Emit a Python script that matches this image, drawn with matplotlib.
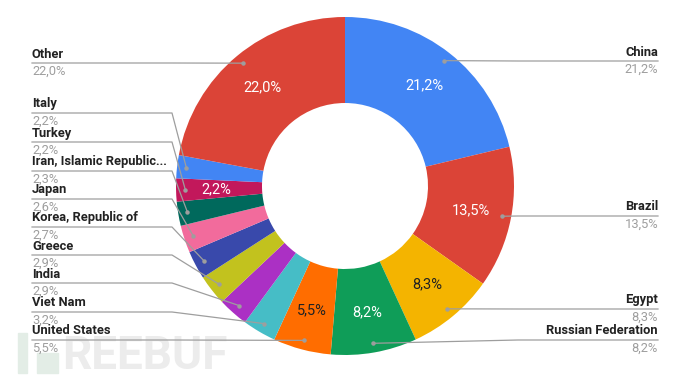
import matplotlib.pyplot as plt
import numpy as np
from matplotlib.patches import Rectangle

countries = ['China', 'Brazil', 'Egypt', 'Russian Federation', 'United States',
             'Viet Nam', 'India', 'Greece', 'Korea, Republic of', 'Japan',
             'Iran, Islamic Republic...', 'Turkey', 'Italy', 'Other']
shares = [21.2, 13.5, 8.3, 8.2, 5.5, 3.2, 2.9, 2.9, 2.7, 2.6, 2.3, 2.2, 2.2, 22.0]
colors = ['#4285f4', '#db4437', '#f4b400', '#0f9d58', '#ff6d00', '#46bdc6',
          '#ab30c4', '#c2c21e', '#3949ab', '#f26b9c', '#00695c', '#c2185b',
          '#4285f4', '#db4437']

# which slices get a value printed inside, and its colour
inner_labels = {'China': 'white', 'Brazil': 'white', 'Egypt': '#222222',
                'Russian Federation': 'white', 'United States': '#222222',
                'Turkey': 'white', 'Other': 'white'}

# outside label layout (pixel rows of the leader line)
left_side = ['Other', 'Italy', 'Turkey', 'Iran, Islamic Republic...', 'Japan',
             'Korea, Republic of', 'Greece', 'India', 'Viet Nam', 'United States']
left_rows = [63, 113, 142, 171, 199, 227, 255, 283, 312, 340]
right_side = ['China', 'Brazil', 'Egypt', 'Russian Federation']
right_rows = [61, 216, 309, 340]

W, H = 690, 382
fig = plt.figure(figsize=(W / 100, H / 100), dpi=100)
ax = fig.add_axes([0, 0, 1, 1])

def Y(py):
    return H - py

cx, cy, R = 345, Y(186), 169

# faint watermark
ax.add_patch(Rectangle((18, Y(373)), 9, 40, color='#e3ede6', zorder=0))
ax.add_patch(Rectangle((37, Y(373)), 21, 20, color='#e3ede6', zorder=0))
ax.text(62, Y(356), 'REEBUF', fontsize=33, fontweight='bold', family='Roboto',
        color='#ececec', va='center', ha='left', zorder=0)

wedges, _ = ax.pie(shares, colors=colors, startangle=90, counterclock=False,
                   radius=R, center=(cx, cy),
                   wedgeprops=dict(width=86, edgecolor='none', linewidth=0))

dots = {}
for name, val, w in zip(countries, shares, wedges):
    mid = np.deg2rad((w.theta1 + w.theta2) / 2)
    dots[name] = (cx + 0.945 * R * np.cos(mid), cy + 0.945 * R * np.sin(mid))
    if name in inner_labels:
        rr = 0.76 * R
        ax.text(cx + rr * np.cos(mid), cy + rr * np.sin(mid),
                '{:.1f}%'.format(val).replace('.', ','), ha='center', va='center',
                fontsize=10.5, family='Roboto', color=inner_labels[name], zorder=5)

line_col = '#9e9e9e'

def draw_label(name, row, side):
    val = shares[countries.index(name)]
    dx, dy = dots[name]
    if side == 'left':
        x0, elbow, ha = 32, 172, 'left'
    else:
        x0, elbow, ha = 658, 518, 'right'
    ax.plot([x0, elbow, dx], [Y(row), Y(row), dy], color=line_col, lw=0.9,
            zorder=4, solid_joinstyle='round')
    ax.plot([dx], [dy], 'o', ms=2.2, color=line_col, zorder=6)
    ax.text(x0, Y(row - 2.5), name, ha=ha, va='bottom', fontsize=9.3,
            fontweight='bold', family='Roboto', color='#222222')
    ax.text(x0, Y(row + 1.5), '{:.1f}%'.format(val).replace('.', ','), ha=ha,
            va='top', fontsize=9.3, family='Roboto', color='#9e9e9e')

for name, row in zip(left_side, left_rows):
    draw_label(name, row, 'left')
for name, row in zip(right_side, right_rows):
    draw_label(name, row, 'right')

ax.set_xlim(0, W)
ax.set_ylim(0, H)
ax.set_aspect('equal')
ax.axis('off')

fig.savefig('out.png', dpi=100)
